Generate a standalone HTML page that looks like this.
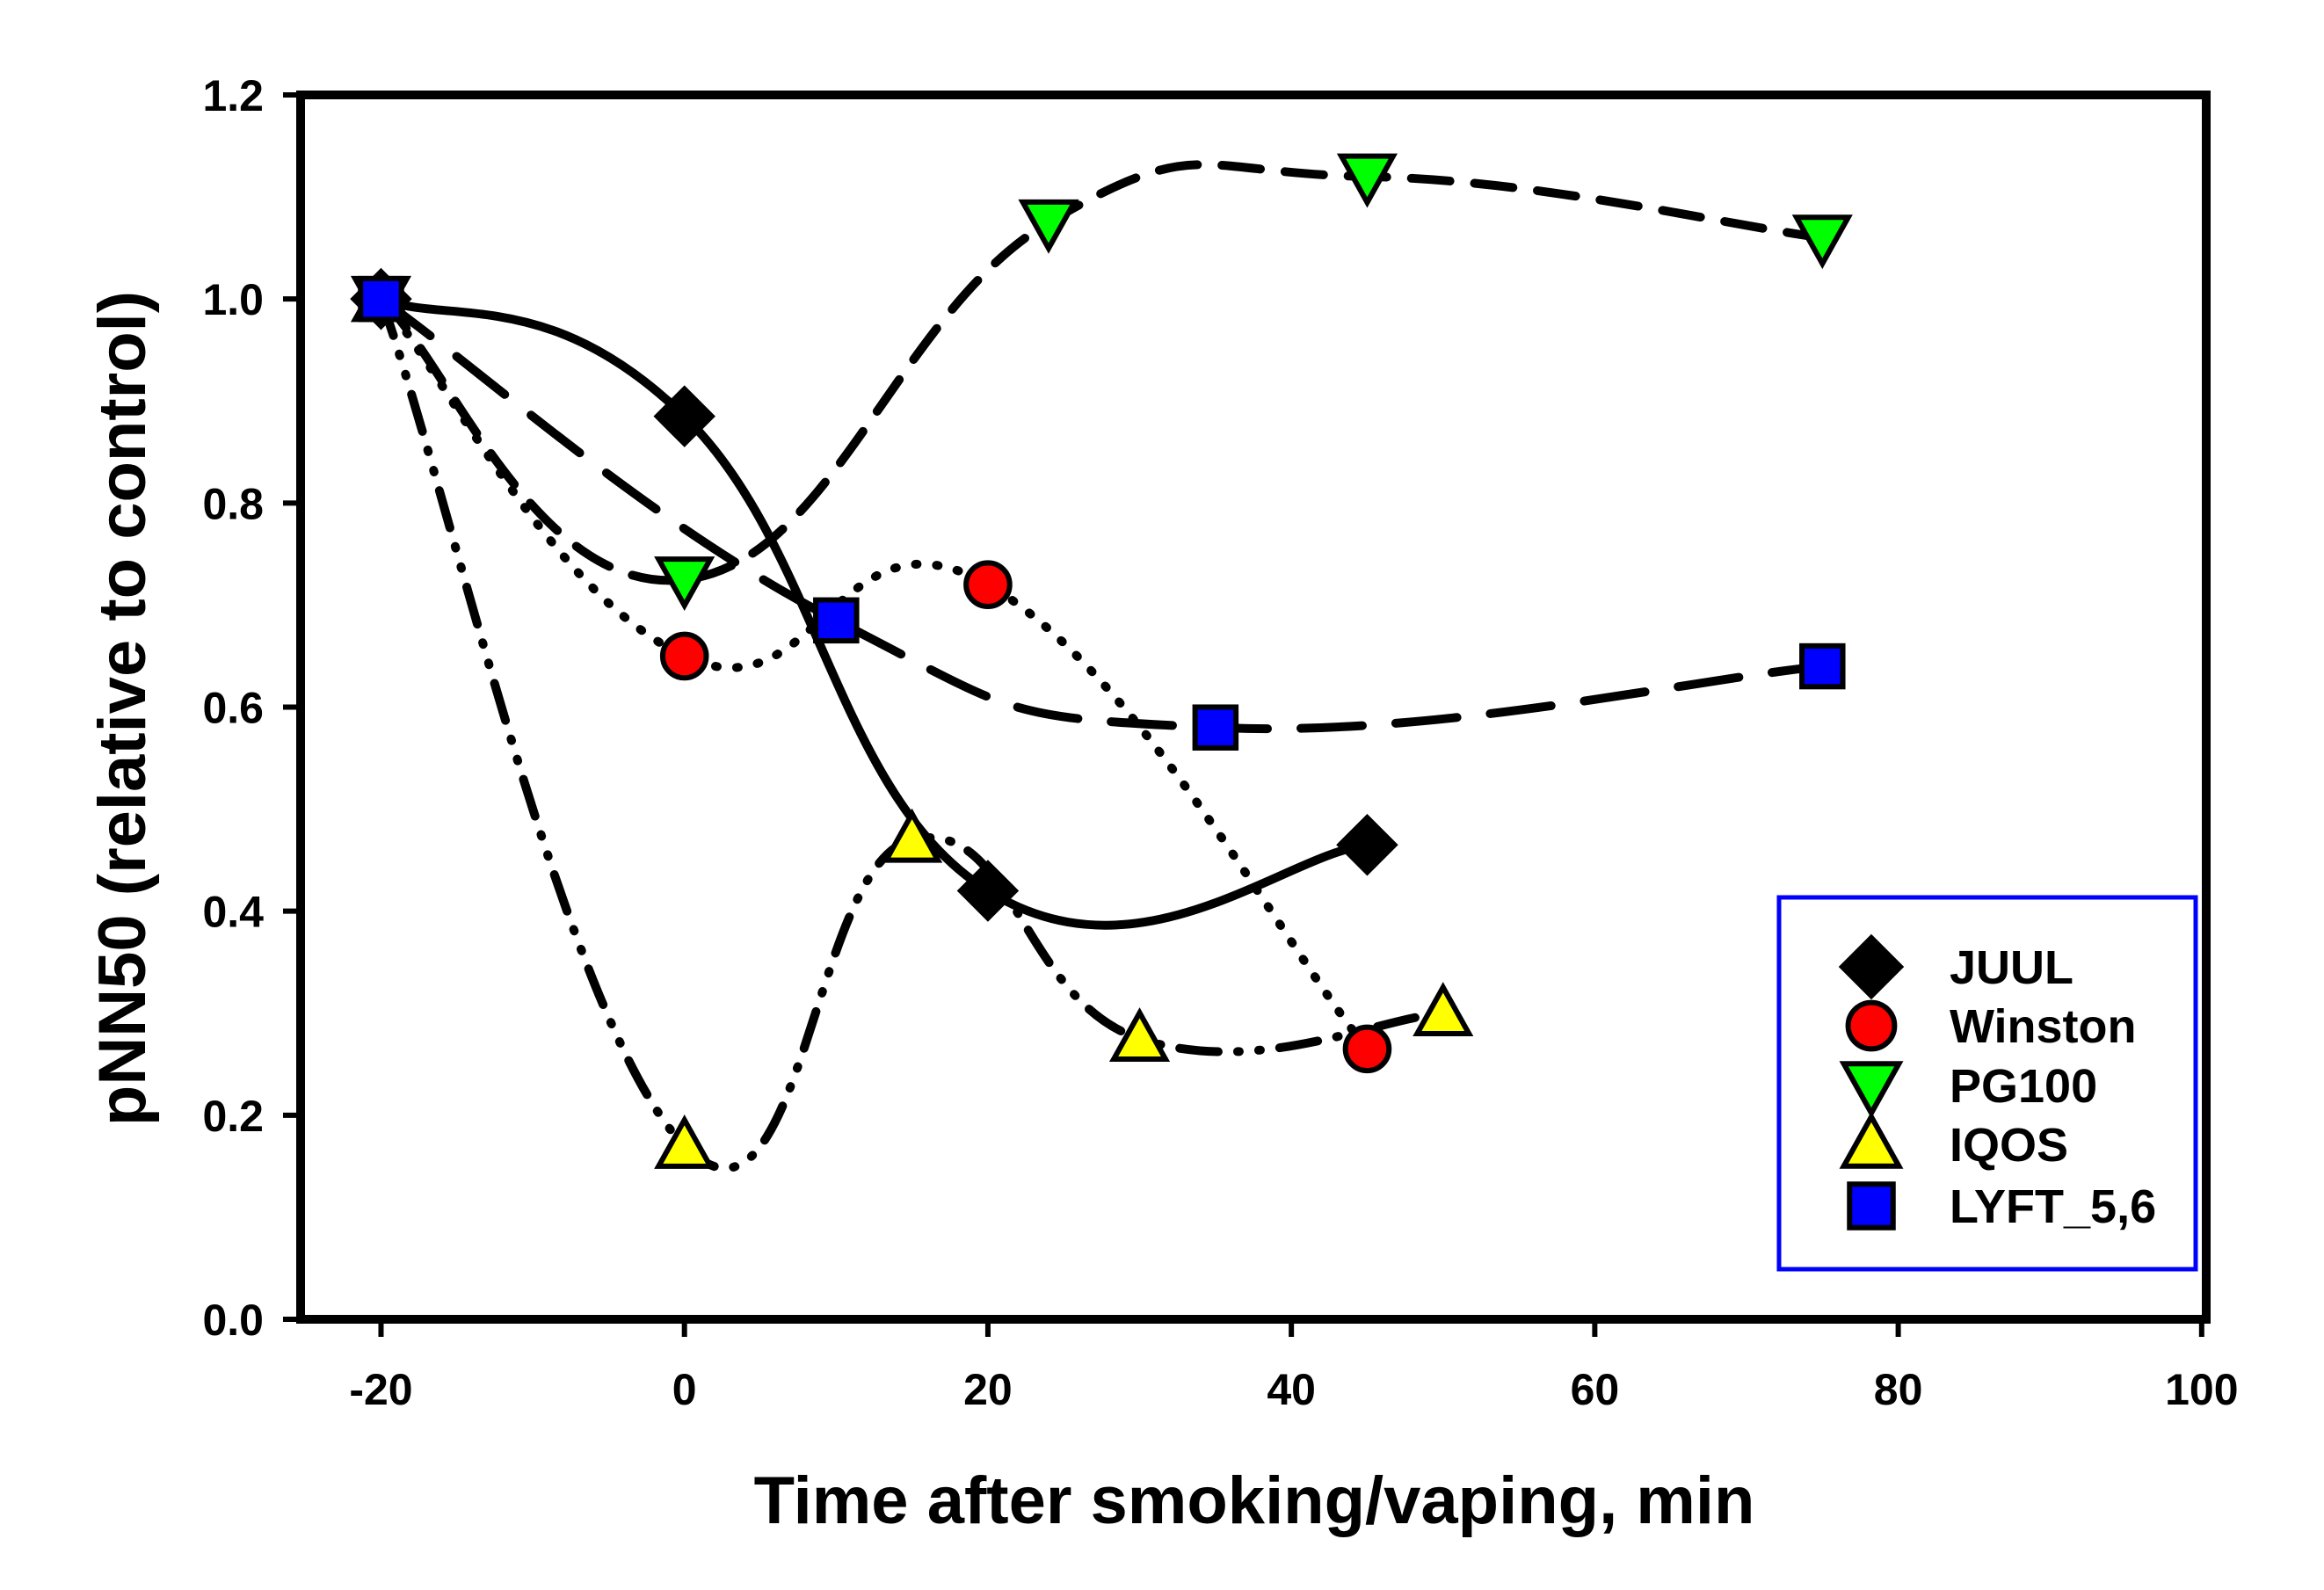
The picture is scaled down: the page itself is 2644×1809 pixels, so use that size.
<!DOCTYPE html>
<html><head><meta charset="utf-8"><style>
html,body{margin:0;padding:0;background:#fff;}
svg text{font-family:"Liberation Sans",Arial,sans-serif;font-weight:bold;fill:#000;}
</style></head><body>
<svg id="chart" width="2644" height="1804" viewBox="0 0 2644 1804" xmlns="http://www.w3.org/2000/svg">
<rect width="2644" height="1804" fill="#fff"/>
<g id="series"></g>
<g id="markers"></g>
<rect x="342" y="108" width="2168" height="1393" fill="none" stroke="#000" stroke-width="10"/>
<g id="axes"></g>
<text x="1427" y="1733" font-size="76" text-anchor="middle">Time after smoking/vaping, min</text>
<text transform="translate(165,806) rotate(-90)" font-size="76" text-anchor="middle">pNN50 (relative to control)</text>
<g id="legend">
<rect x="2024" y="1021" width="474" height="423" fill="#fff" stroke="#0000ff" stroke-width="5"/>
</g>
</svg>
<script>
const xTicks = [-20, 0, 20, 40, 60, 80, 100];
const yTicks = [0.0, 0.2, 0.4, 0.6, 0.8, 1.0, 1.2];
const yTickLabels = ["0.0", "0.2", "0.4", "0.6", "0.8", "1.0", "1.2"];
const seriesNames = ["JUUL", "Winston", "PG100", "IQOS", "LYFT_5,6"];
const juulX = [-20, 0, 20, 45];
const juulY = [1.0, 0.885, 0.42, 0.465];
const winstonX = [-20, 0, 20, 45];
const winstonY = [1.0, 0.65, 0.72, 0.265];
const pg100X = [-20, 0, 24, 45, 75];
const pg100Y = [1.0, 0.725, 1.075, 1.12, 1.06];
const iqosX = [-20, 0, 15, 30, 50];
const iqosY = [1.0, 0.17, 0.47, 0.275, 0.30];
const lyftX = [-20, 10, 35, 75];
const lyftY = [1.0, 0.685, 0.58, 0.64];

const NS = "http://www.w3.org/2000/svg";
const X0 = 342, X1 = 2510, Y0 = 1501, Y1 = 108;
const xMin = -25.3, xMax = 100.3, yMin = 0, yMax = 1.2;
function sx(v){ return X0 + (v - xMin) / (xMax - xMin) * (X1 - X0); }
function sy(v){ return Y0 - (v - yMin) / (yMax - yMin) * (Y0 - Y1); }
function mk(tag, attrs, parent){
  const e = document.createElementNS(NS, tag);
  for (const k in attrs) e.setAttribute(k, attrs[k]);
  parent.appendChild(e);
  return e;
}
const axes = document.getElementById('axes');
xTicks.forEach((t, i) => {
  const l = mk('line', {x1: sx(t), x2: sx(t), y1: Y0, y2: Y0 + 20, stroke: '#000', 'stroke-width': 6}, axes);
  
  
  const tx = mk('text', {x: sx(t), y: 1598, 'font-size': 50, 'text-anchor': 'middle'}, axes);
  tx.textContent = String(t);
  
  
});
yTicks.forEach((t, i) => {
  const l = mk('line', {x1: X0 - 20, x2: X0, y1: sy(t), y2: sy(t), stroke: '#000', 'stroke-width': 6}, axes);
  
  
  const tx = mk('text', {x: 300, y: sy(t) + 18, 'font-size': 50, 'text-anchor': 'end'}, axes);
  tx.textContent = yTickLabels[i];
  
  
});
function splinePath(xs, ys){
  const p = xs.map((x, i) => [sx(x), sy(ys[i])]);
  let d = 'M' + p[0][0] + ',' + p[0][1];
  const k = 4.5;
  for (let i = 0; i < p.length - 1; i++){
    const p0 = p[i - 1] || p[i], p1 = p[i], p2 = p[i + 1], p3 = p[i + 2] || p2;
    const c1 = [p1[0] + (p2[0] - p0[0]) / k, p1[1] + (p2[1] - p0[1]) / k];
    const c2 = [p2[0] - (p3[0] - p1[0]) / k, p2[1] - (p3[1] - p1[1]) / k];
    d += ' C' + c1 + ' ' + c2 + ' ' + p2;
  }
  return d;
}
const seriesG = document.getElementById('series');
const markersG = document.getElementById('markers');
const defs = [
  {xs: juulX, ys: juulY, dash: '', fill: '#000', shape: 'diamond', name: 'juul'},
  {xs: winstonX, ys: winstonY, dash: '2 22', fill: '#ff0000', shape: 'circle', name: 'winston'},
  {xs: pg100X, ys: pg100Y, dash: '44 28', fill: '#00ff00', shape: 'tdown', name: 'pg100'},
  {xs: iqosX, ys: iqosY, dash: '44 22 2 22 2 22', fill: '#ffff00', shape: 'tup', name: 'iqos'},
  {xs: lyftX, ys: lyftY, dash: '70 38', fill: '#0000ff', shape: 'square', name: 'lyft'}
];
function marker(shape, cx, cy, fill, parent, s){
  let e;
  if (shape === 'diamond') e = mk('polygon', {points: `${cx},${cy-s} ${cx+s},${cy} ${cx},${cy+s} ${cx-s},${cy}`}, parent);
  else if (shape === 'circle') e = mk('circle', {cx: cx, cy: cy, r: s*0.8}, parent);
  else if (shape === 'tdown') e = mk('polygon', {points: `${cx-s*0.95},${cy-s*0.75} ${cx+s*0.95},${cy-s*0.75} ${cx},${cy+s*0.95}`}, parent);
  else if (shape === 'tup') e = mk('polygon', {points: `${cx-s*0.95},${cy+s*0.75} ${cx+s*0.95},${cy+s*0.75} ${cx},${cy-s*0.95}`}, parent);
  else e = mk('rect', {x: cx - s*0.75, y: cy - s*0.75, width: s*1.5, height: s*1.5}, parent);
  e.setAttribute('fill', fill);
  e.setAttribute('stroke', '#000');
  e.setAttribute('stroke-width', 6);
  return e;
}
defs.forEach(s => {
  const p = mk('path', {d: splinePath(s.xs, s.ys), fill: 'none', stroke: '#000', 'stroke-width': 10, 'stroke-linecap': 'round', 'stroke-dasharray': s.dash}, seriesG);
  
  
});
defs.forEach(s => {
  s.xs.forEach((x, i) => {
    const m = marker(s.shape, sx(x), sy(s.ys[i]), s.fill, markersG, 31);
    
    
  });
});
const legend = document.getElementById('legend');
const rowY = [1100, 1167, 1235, 1302, 1372];
defs.forEach((s, i) => {
  const m = marker(s.shape, 2129, rowY[i], s.fill, legend, 33);
  
  
  const t = mk('text', {x: 2218, y: rowY[i] + 19, 'font-size': 54}, legend);
  t.textContent = seriesNames[i];
  
  
});
</script>
</body></html>
